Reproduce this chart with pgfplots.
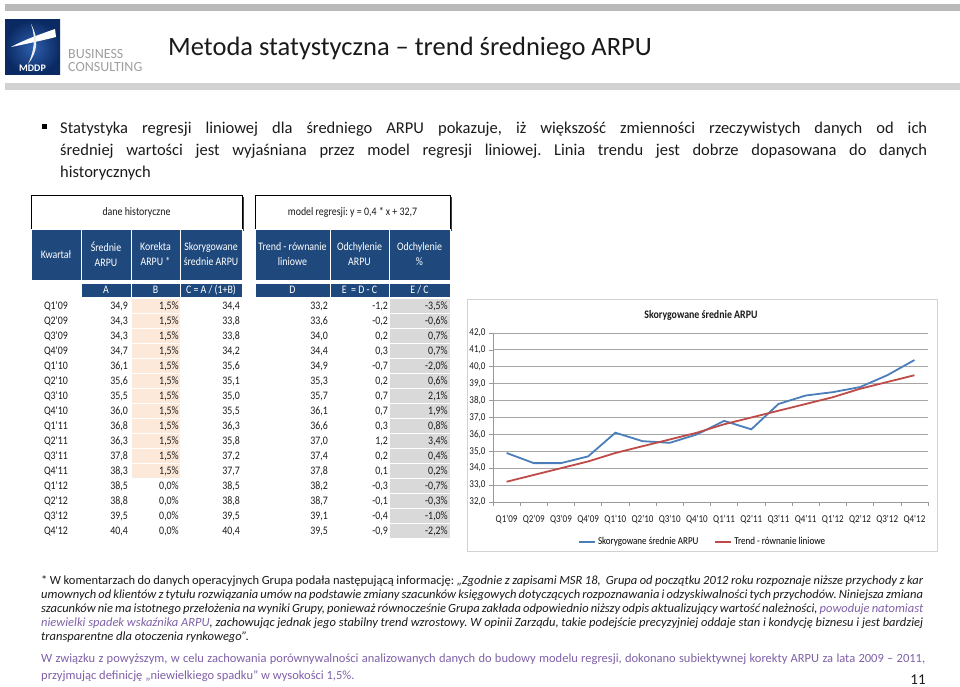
\documentclass[border=0pt]{standalone}
\usepackage{pgfplots}
\pgfplotsset{compat=1.18}
\usepackage{pgfplotstable}
\usepackage{fontspec}
\setmainfont{Carlito}
\newfontfamily\cond[FakeStretch=0.86]{Carlito}
\frenchspacing
\definecolor{navy}{HTML}{1F497D}
\definecolor{peach}{HTML}{FDE9D9}
\definecolor{lgray}{HTML}{D9D9D9}
\definecolor{sblue}{HTML}{4A7EBB}
\definecolor{sred}{HTML}{BE4B48}
\definecolor{purp}{HTML}{7F60A8}
\definecolor{txt}{HTML}{1A1A1A}
\definecolor{logoA}{HTML}{2E5FAE}
\definecolor{logoB}{HTML}{0B2A63}

\pgfplotstableread{
x A D
0 34.9 33.2
1 34.3 33.6
2 34.3 34.0
3 34.7 34.4
4 36.1 34.9
5 35.6 35.3
6 35.5 35.7
7 36.0 36.1
8 36.8 36.6
9 36.3 37.0
10 37.8 37.4
11 38.3 37.8
12 38.5 38.2
13 38.8 38.7
14 39.5 39.1
15 40.4 39.5
}\arpu

\newcommand{\tf}{\cond\fontsize{11.5}{15}\selectfont}
\newcommand{\row}[9]{%
  \pgfmathsetmacro\yy{306+15*#1}%
  \ifnum#9=1 \fill[peach] (132,\yy-7) rectangle (180,\yy+7);\fi
  \fill[lgray] (390,\yy-7) rectangle (450,\yy+7);
  \node[anchor=base] at (56,\yy+4) {\tf #2};
  \node[anchor=base east] at (128,\yy+4) {\tf #3};
  \node[anchor=base east] at (179,\yy+4) {\tf #4};
  \node[anchor=base east] at (240,\yy+4) {\tf #5};
  \node[anchor=base east] at (328,\yy+4) {\tf #6};
  \node[anchor=base east] at (388,\yy+4) {\tf #7};
  \node[anchor=base east] at (448,\yy+4) {\tf #8};
}

\begin{document}
\begin{tikzpicture}
\path[use as bounding box] (0,0) rectangle (960pt,687pt);
\begin{scope}[x=1pt,y=-1pt,yshift=687pt,every node/.style={inner sep=0pt,text=txt}]
% header bars
\fill[gray!55] (5,4) rectangle (960,11);
\fill[gray!35] (5,83) rectangle (960,90);
% logo
\shade[inner color=logoA, outer color=logoB] (5,20) rectangle (60,75);
\fill[white] (55,29) .. controls (38,35) and (24,40) .. (11,47) .. controls (26,44) and (40,41) .. (56,37) -- cycle;
\fill[white!85!gray] (31,24) .. controls (36,38) and (34,52) .. (28,64) .. controls (38,52) and (39,38) .. (31,24) -- cycle;
\node[anchor=base,text=white] at (32.5,72) {\fontsize{10}{12}\selectfont\bfseries MDDP};
\node[anchor=base west,text=gray!75] at (68,59) {\fontsize{14}{15}\selectfont BUSINESS};
\node[anchor=base west,text=gray!75] at (68,72) {\fontsize{14}{15}\selectfont CONSULTING};
% title
\node[anchor=base west] at (168,56) {\fontsize{26.5}{30}\selectfont Metoda statystyczna – trend średniego ARPU};
% bullet
\fill[black] (42,124) rectangle (47,129);
\node[anchor=base west] at (60,134) {\fontsize{16.5}{22}\selectfont\makebox[867pt][s]{Statystyka regresji liniowej dla średniego ARPU pokazuje, iż większość zmienności rzeczywistych danych od ich}};
\node[anchor=base west] at (60,156) {\fontsize{16.5}{22}\selectfont\makebox[867pt][s]{średniej wartości jest wyjaśniana przez model regresji liniowej. Linia trendu jest dobrze dopasowana do danych}};
\node[anchor=base west] at (60,178) {\fontsize{16.5}{22}\selectfont historycznych};
% table boxes
\fill[black!75] (33,197) rectangle (244,231);
\draw[fill=white,line width=0.8] (31,195) rectangle (242,229);
\node at (136.5,212) {\tf dane historyczne};
\fill[black!75] (257,197) rectangle (452,231);
\draw[fill=white,line width=0.8] (255,195) rectangle (450,229);
\node at (352.5,212) {\tf model regresji: y = 0,4 * x + 32,7};
% header cells
\foreach \xa/\xb in {31/81,81/131,131/180,180/242,255/330,330/389,389/450}
  \filldraw[fill=navy,draw=white,line width=0.8] (\xa,229) rectangle (\xb,280);
\foreach \xa/\xb in {81/131,131/180,180/242,255/330,330/389,389/450}
  \filldraw[fill=navy,draw=white,line width=0.8] (\xa,283) rectangle (\xb,297);
\begin{scope}[every node/.style={inner sep=0pt,text=white,align=center,font=\tf}]
\node at (56,254.5) {Kwartał};
\node at (106,254.5) {Średnie\\ARPU};
\node at (155.5,254.5) {Korekta\\ARPU *};
\node at (211,254.5) {Skorygowane\\średnie ARPU};
\node at (292.5,254.5) {Trend - równanie\\liniowe};
\node at (359.5,254.5) {Odchylenie\\ARPU};
\node at (419.5,254.5) {Odchylenie\\\%};
\node[anchor=base] at (106,294) {A};
\node[anchor=base] at (155.5,294) {B};
\node[anchor=base] at (211,294) {C = A / (1+B)};
\node[anchor=base] at (292.5,294) {D};
\node[anchor=base] at (359.5,294) {E \ = D - C};
\node[anchor=base] at (419.5,294) {E / C};
\end{scope}
% rows
\row{0}{Q1'09}{34,9}{1,5\%}{34,4}{33,2}{-1,2}{-3,5\%}{1}
\row{1}{Q2'09}{34,3}{1,5\%}{33,8}{33,6}{-0,2}{-0,6\%}{1}
\row{2}{Q3'09}{34,3}{1,5\%}{33,8}{34,0}{0,2}{0,7\%}{1}
\row{3}{Q4'09}{34,7}{1,5\%}{34,2}{34,4}{0,3}{0,7\%}{1}
\row{4}{Q1'10}{36,1}{1,5\%}{35,6}{34,9}{-0,7}{-2,0\%}{1}
\row{5}{Q2'10}{35,6}{1,5\%}{35,1}{35,3}{0,2}{0,6\%}{1}
\row{6}{Q3'10}{35,5}{1,5\%}{35,0}{35,7}{0,7}{2,1\%}{1}
\row{7}{Q4'10}{36,0}{1,5\%}{35,5}{36,1}{0,7}{1,9\%}{1}
\row{8}{Q1'11}{36,8}{1,5\%}{36,3}{36,6}{0,3}{0,8\%}{1}
\row{9}{Q2'11}{36,3}{1,5\%}{35,8}{37,0}{1,2}{3,4\%}{1}
\row{10}{Q3'11}{37,8}{1,5\%}{37,2}{37,4}{0,2}{0,4\%}{1}
\row{11}{Q4'11}{38,3}{1,5\%}{37,7}{37,8}{0,1}{0,2\%}{1}
\row{12}{Q1'12}{38,5}{0,0\%}{38,5}{38,2}{-0,3}{-0,7\%}{0}
\row{13}{Q2'12}{38,8}{0,0\%}{38,8}{38,7}{-0,1}{-0,3\%}{0}
\row{14}{Q3'12}{39,5}{0,0\%}{39,5}{39,1}{-0,4}{-1,0\%}{0}
\row{15}{Q4'12}{40,4}{0,0\%}{40,4}{39,5}{-0,9}{-2,2\%}{0}
% chart frame and title
\draw[gray!35,line width=0.8] (467,299) rectangle (937,551);
\node at (701,315) {\cond\fontsize{11.5}{13}\selectfont\bfseries Skorygowane średnie ARPU};
% footnote
\begin{scope}[every node/.style={inner sep=0pt,text=txt,anchor=base west,font=\fontsize{12.5}{14}\selectfont}]
\node at (41,585) {\makebox[882pt][s]{* W komentarzach do danych operacyjnych Grupa podała następującą informację: \textit{„Zgodnie z zapisami MSR 18, \ Grupa od początku 2012 roku rozpoznaje niższe przychody z kar}}};
\node at (41,599) {\makebox[882pt][s]{\itshape umownych od klientów z tytułu rozwiązania umów na podstawie zmiany szacunków księgowych dotyczących rozpoznawania i odzyskiwalności tych przychodów. Niniejsza zmiana}};
\node at (41,613) {\makebox[882pt][s]{\itshape szacunków nie ma istotnego przełożenia na wyniki Grupy, ponieważ równocześnie Grupa zakłada odpowiednio niższy odpis aktualizujący wartość należności, \textcolor{purp}{powoduje natomiast}}};
\node at (41,627) {\makebox[882pt][s]{\itshape \textcolor{purp}{niewielki spadek wskaźnika ARPU}, zachowując jednak jego stabilny trend wzrostowy. W opinii Zarządu, takie podejście precyzyjniej oddaje stan i kondycję biznesu i jest bardziej}};
\node at (41,641) {\itshape transparentne dla otoczenia rynkowego”.};
\node[text=purp] at (41,663) {\makebox[884pt][s]{W związku z powyższym, w celu zachowania porównywalności analizowanych danych do budowy modelu regresji, dokonano subiektywnej korekty ARPU za lata 2009 – 2011,}};
\node[text=purp] at (41,680) {przyjmując definicję „niewielkiego spadku” w wysokości 1,5\%.};
\end{scope}
\node[anchor=base] at (918,684.5) {\fontsize{15}{17}\selectfont 11};
\end{scope}

\begin{axis}[
  at={(493pt,185pt)}, anchor=south west,
  width=435pt, height=169pt, scale only axis,
  xmin=-0.5, xmax=15.5, ymin=32, ymax=42,
  ytick={32,33,...,42},
  yticklabels={{32,0},{33,0},{34,0},{35,0},{36,0},{37,0},{38,0},{39,0},{40,0},{41,0},{42,0}},
  xtick={0,1,...,15},
  xticklabels={Q1'09,Q2'09,Q3'09,Q4'09,Q1'10,Q2'10,Q3'10,Q4'10,Q1'11,Q2'11,Q3'11,Q4'11,Q1'12,Q2'12,Q3'12,Q4'12},
  minor xtick={-0.5,0.5,...,15.5},
  major x tick style={draw=none},
  tick align=outside, major tick length=4pt, minor tick length=4pt,
  tick style={gray!80, line width=0.6pt},
  axis lines*=left,
  axis line style={gray!80, line width=0.6pt},
  ymajorgrids, grid style={gray!70, line width=0.8pt},
  tick label style={font=\cond\fontsize{10.5}{12}\selectfont, text=txt},
  xticklabel style={yshift=-6pt},
  legend style={at={(0.482,-0.235)}, anchor=center, draw=none, fill=none,
    font=\cond\fontsize{10.5}{12}\selectfont, legend columns=2,
    /tikz/every even column/.append style={column sep=14pt}},
  legend image code/.code={\draw[#1] (0pt,0pt) -- (16pt,0pt);},
]
\addplot[sblue, line width=1.8pt] table[x=x,y=A]{\arpu};
\addlegendentry{Skorygowane średnie ARPU}
\addplot[sred, line width=1.8pt] table[x=x,y=D]{\arpu};
\addlegendentry{Trend - równanie liniowe}
\end{axis}
\end{tikzpicture}
\end{document}
